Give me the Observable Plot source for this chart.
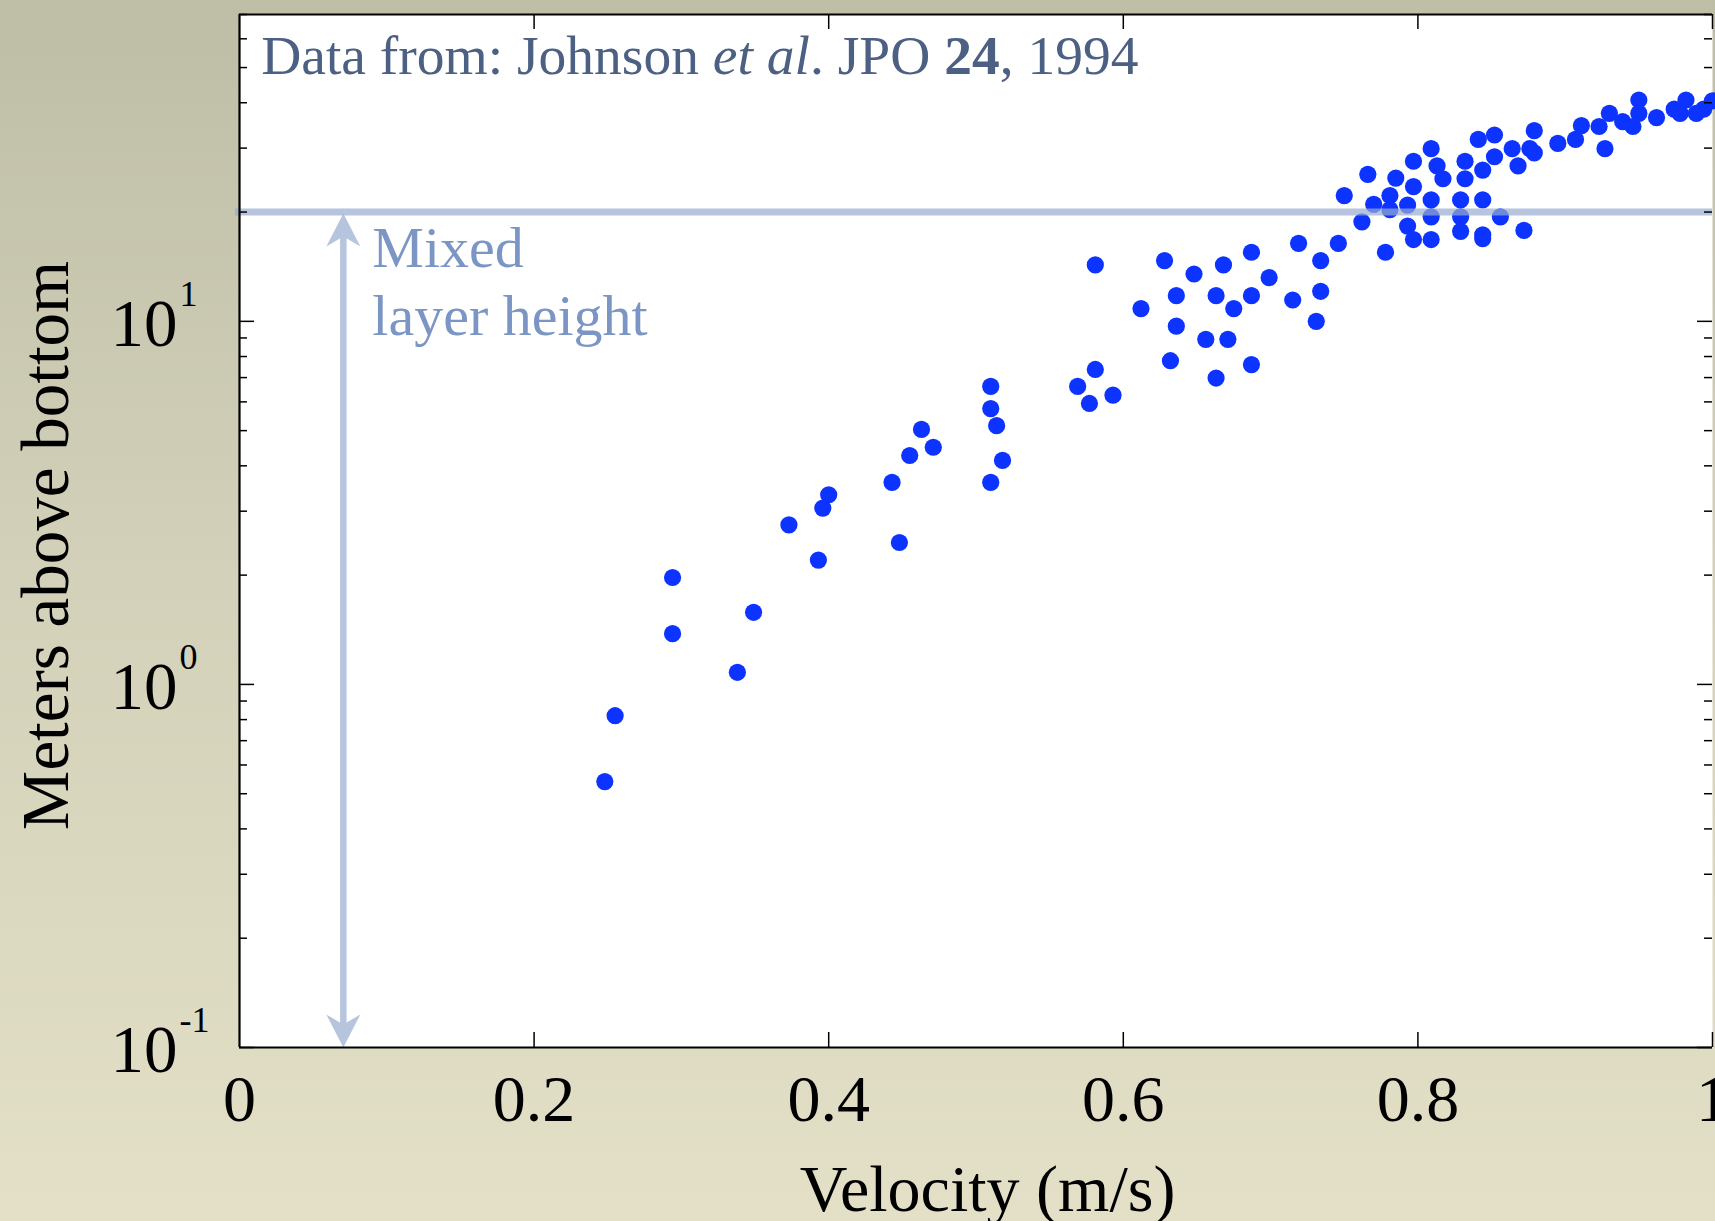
<!DOCTYPE html>
<html>
<head>
<meta charset="utf-8">
<script src="https://cdn.jsdelivr.net/npm/d3@7"></script>
<script src="https://cdn.jsdelivr.net/npm/@observablehq/plot@0.6"></script>
<style>
  html, body { margin: 0; padding: 0; overflow: hidden; }
  body {
    width: 1715px; height: 1221px;
    background: linear-gradient(to bottom, #bebda6 0%, #d2d0b8 45%, #e3e0c7 100%);
  }
</style>
</head>
<body>
<div id="chart"></div>
<script>
// ---- data ----
const velocity = [
  0.248, 0.255, 0.294, 0.294, 0.338, 0.349, 0.373, 0.393, 0.396, 0.400,
  0.443, 0.448, 0.455, 0.463, 0.471, 0.510, 0.510, 0.514, 0.518, 0.510,
  0.569, 0.577, 0.581, 0.581, 0.593, 0.612, 0.628, 0.632, 0.636, 0.636,
  0.648, 0.656, 0.663, 0.663, 0.668, 0.671, 0.675, 0.687, 0.687, 0.687,
  0.699, 0.715, 0.719, 0.731, 0.734, 0.734, 0.746, 0.750, 0.762, 0.766,
  0.770, 0.778, 0.781, 0.781, 0.785, 0.793, 0.793, 0.797, 0.797, 0.797,
  0.809, 0.809, 0.809, 0.809, 0.813, 0.817, 0.829, 0.829, 0.829, 0.832,
  0.832, 0.841, 0.844, 0.844, 0.844, 0.844, 0.852, 0.852, 0.856, 0.864,
  0.868, 0.872, 0.876, 0.879, 0.879, 0.895, 0.907, 0.911, 0.923, 0.927,
  0.930, 0.939, 0.946, 0.950, 0.950, 0.962, 0.974, 0.978, 0.982, 0.989,
  0.994, 1.000
];
const heightAboveBottom = [
  0.54, 0.82, 1.97, 1.38, 1.08, 1.58, 2.75, 2.20, 3.06, 3.33,
  3.60, 2.46, 4.27, 5.04, 4.50, 6.62, 5.75, 5.16, 4.14, 3.60,
  6.62, 5.94, 7.37, 14.3, 6.26, 10.84, 14.7, 7.79, 11.77, 9.7,
  13.5, 8.92, 11.77, 6.98, 14.3, 8.92, 10.84, 15.5, 11.77, 7.6,
  13.2, 11.45, 16.4, 10.0, 14.7, 12.1, 16.4, 22.2, 18.8, 25.4,
  21.0, 15.5, 22.2, 20.3, 24.8, 20.9, 18.3, 16.8, 23.5, 27.6,
  29.9, 21.6, 19.4, 16.8, 26.8, 24.7, 21.6, 19.4, 17.7, 27.6,
  24.7, 31.7, 26.1, 21.6, 17.3, 16.9, 32.6, 28.4, 19.4, 29.9,
  26.8, 17.8, 29.9, 33.5, 29.1, 30.9, 31.7, 34.6, 34.4, 29.9,
  37.4, 35.5, 34.4, 40.7, 37.4, 36.4, 38.4, 37.4, 40.7, 37.4,
  38.4, 40.5
];
const mixedLayerHeight = 20;
const arrowVelocity = 0.0705;
const xDomain = [0, 1];
const yDomain = [0.1, 70];
const xTicks = [0, 0.2, 0.4, 0.6, 0.8, 1];
const xTickLabels = ["0", "0.2", "0.4", "0.6", "0.8", "1"];
const yMajorTicks = [0.1, 1, 10];
const yTickBase = ["10", "10", "10"];
const yTickExponents = ["-1", "0", "1"];
const yMinorTicks = [0.2,0.3,0.4,0.5,0.6,0.7,0.8,0.9, 2,3,4,5,6,7,8,9, 20,30,40,50,60,70];
const xLabel = "Velocity (m/s)";
const yLabel = "Meters above bottom";
const note = "Data from: Johnson et al. JPO 24, 1994";
const mixedLabel = "Mixed\nlayer height";

// ---- layout ----
const W = 1715, H = 1221;
const mL = 239, mR = 3, mT = 14, mB = 174;
const frameW = W - mL - mR, frameH = H - mT - mB;

const points = velocity.map((v, i) => ({v, h: heightAboveBottom[i]}));
const lightBlue = "#b6c5dd";

const arrowUp = {draw(ctx) { ctx.moveTo(0, 0); ctx.lineTo(17, 33); ctx.lineTo(0, 23); ctx.lineTo(-17, 33); ctx.closePath(); }};
const arrowDown = {draw(ctx) { ctx.moveTo(0, 0); ctx.lineTo(17, -33); ctx.lineTo(0, -23); ctx.lineTo(-17, -33); ctx.closePath(); }};

const fontFamily = "'Liberation Serif', 'Times New Roman', serif";

const chart = Plot.plot({
  width: W, height: H,
  marginLeft: mL, marginRight: mR, marginTop: mT, marginBottom: mB,
  style: {background: "transparent", fontFamily, overflow: "visible"},
  x: {type: "linear", domain: xDomain, axis: null},
  y: {type: "log", domain: yDomain, axis: null},
  marks: [
    Plot.frame({fill: "white", stroke: null}),
    // data
    Plot.dot(points, {x: "v", y: "h", r: 8.6, fill: "#0c33ff", stroke: null}),
    // mixed layer arrow (shaft + two heads)
    Plot.ruleX([arrowVelocity], {x: d => d, y1: mixedLayerHeight, y2: yDomain[0], stroke: lightBlue, strokeWidth: 6.5, insetTop: 22, insetBottom: 22}),
    Plot.dot([{x: arrowVelocity, y: mixedLayerHeight}], {x: "x", y: "y", symbol: arrowUp, fill: lightBlue, stroke: null, dy: 1.5}),
    Plot.dot([{x: arrowVelocity, y: yDomain[0]}], {x: "x", y: "y", symbol: arrowDown, fill: lightBlue, stroke: null}),
    // mixed layer line (semi-transparent, on top of the dots)
    Plot.ruleY([mixedLayerHeight], {y: d => d, stroke: "#97acce", strokeOpacity: 0.7, strokeWidth: 7, insetLeft: -4}),
    // borders
    Plot.ruleX([xDomain[0]], {x: d => d, stroke: "black", strokeWidth: 2.2}),
    Plot.ruleY([yDomain[0], yDomain[1]], {y: d => d, stroke: "black", strokeWidth: 2.2}),
    // inward ticks
    Plot.tickX(xTicks.slice(1), {x: d => d, stroke: "black", strokeWidth: 1.5, insetTop: frameH - 15}),
    Plot.tickX(xTicks.slice(1), {x: d => d, stroke: "black", strokeWidth: 1.5, insetBottom: frameH - 15}),
    Plot.tickY(yMajorTicks, {y: d => d, stroke: "black", strokeWidth: 1.5, insetRight: frameW - 15}),
    Plot.tickY(yMajorTicks, {y: d => d, stroke: "black", strokeWidth: 1.5, insetLeft: frameW - 15}),
    Plot.tickY(yMinorTicks, {y: d => d, stroke: "black", strokeWidth: 1.5, insetRight: frameW - 8}),
    Plot.tickY(yMinorTicks, {y: d => d, stroke: "black", strokeWidth: 1.5, insetLeft: frameW - 8}),
    // x tick labels
    Plot.text(xTicks, {x: d => d, text: (d, i) => xTickLabels[i], frameAnchor: "bottom", lineAnchor: "middle", textAnchor: "middle", dy: 52.6, fontSize: 66, fill: "black"}),
    // y tick labels: base and exponent
    Plot.text(yMajorTicks, {y: d => d, text: (d, i) => yTickBase[i], frameAnchor: "left", lineAnchor: "middle", textAnchor: "start", dx: -129, dy: 3, fontSize: 67, fill: "black"}),
    Plot.text(yMajorTicks, {y: d => d, text: (d, i) => yTickExponents[i], frameAnchor: "left", lineAnchor: "middle", textAnchor: "start", dx: -60, dy: -27, fontSize: 36, fill: "black"}),
    // axis labels
    Plot.text([xLabel], {text: d => d, frameAnchor: "bottom", lineAnchor: "middle", textAnchor: "middle", dx: 11.5, dy: 142, fontSize: 66, fill: "black"}),
    Plot.text([yLabel], {text: d => d, frameAnchor: "left", rotate: -90, lineAnchor: "middle", textAnchor: "middle", dx: -193.4, dy: 14.5, fontSize: 67, fill: "black"}),
    // annotations
    Plot.text([note], {text: d => d, frameAnchor: "top-left", lineAnchor: "top", textAnchor: "start", dx: 21.7, dy: 20, fontSize: 55.5, fill: "#4c6083"}),
    Plot.text([{x: arrowVelocity, y: mixedLayerHeight, t: mixedLabel}], {x: "x", y: "y", text: "t", lineAnchor: "top", textAnchor: "start", dx: 29, dy: 6, fontSize: 58, lineHeight: 1.18, fill: "#7b96c4"})
  ]
});

// rich styling inside the note: italic "et al", bold "24"
d3.select(chart).selectAll("text").filter(function() { return this.textContent === note; }).each(function() {
  const t = d3.select(this);
  t.text(null);
  const parts = [["Data from: Johnson ", null], ["et al", "italic"], [". JPO ", null], ["24", "bold"], [", 1994", null]];
  for (const [s, st] of parts) {
    const sp = t.append("tspan").text(s);
    if (st === "italic") sp.attr("font-style", "italic");
    if (st === "bold") sp.attr("font-weight", "bold");
  }
});

document.getElementById("chart").appendChild(chart);
</script>
</body>
</html>
